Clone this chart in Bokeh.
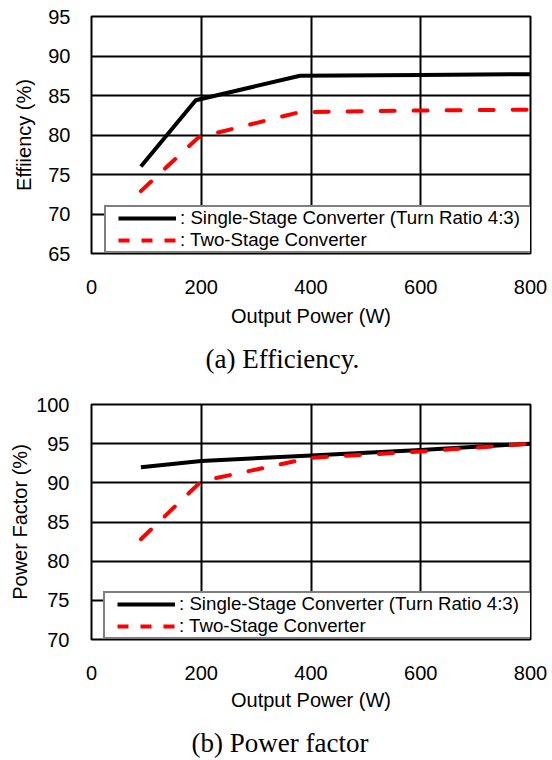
from bokeh.plotting import figure
from bokeh.models import Legend, LegendItem, FixedTicker, Range1d
from bokeh.layouts import column
from bokeh.embed import file_html
from bokeh.resources import INLINE

# ---- data ----
eff_single_x = [90, 190, 380, 600, 800]
eff_single_y = [76.0, 84.4, 87.5, 87.6, 87.7]
eff_two_x = [90, 195, 380, 600, 800]
eff_two_y = [72.9, 79.7, 82.9, 83.1, 83.2]

pf_single_x = [90, 200, 400, 600, 800]
pf_single_y = [92.0, 92.8, 93.5, 94.2, 95.0]
pf_two_x = [90, 200, 400, 600, 800]
pf_two_y = [82.8, 90.2, 93.2, 94.0, 95.0]

x_ticks = [0, 200, 400, 600, 800]
eff_ticks = [65, 70, 75, 80, 85, 90, 95]
pf_ticks = [70, 75, 80, 85, 90, 95, 100]

label_single = ": Single-Stage Converter (Turn Ratio 4:3)"
label_two = ": Two-Stage Converter"
captions = ["(a) Efficiency.", "(b) Power factor"]

SANS = "Liberation Sans"
SERIF = "Liberation Serif"


def make_fig(sx, sy, tx, ty, yticks, ylabel, height, left, right, top, bottom,
             y_std, y_lab_std, x_lab_std, leg_x, leg_w):
    p = figure(width=552, height=height, output_backend="svg", toolbar_location=None,
               x_range=Range1d(0, 800), y_range=Range1d(yticks[0], yticks[-1]),
               min_border_left=left, min_border_right=right,
               min_border_top=top, min_border_bottom=bottom)
    p.background_fill_color = "white"
    p.border_fill_color = "white"
    p.outline_line_color = "black"
    p.outline_line_width = 2

    for ax in (p.xaxis[0], p.yaxis[0]):
        ax.axis_line_color = None
        ax.major_tick_line_color = None
        ax.minor_tick_line_color = None
        ax.major_tick_in = 0
        ax.major_tick_out = 0
        ax.minor_tick_out = 0
        ax.major_label_text_font = SANS
        ax.major_label_text_font_size = "20px"
        ax.major_label_text_color = "black"
        ax.axis_label_text_font = SANS
        ax.axis_label_text_font_size = "20px"
        ax.axis_label_text_font_style = "normal"
        ax.axis_label_text_color = "black"

    p.xaxis.ticker = FixedTicker(ticks=x_ticks)
    p.yaxis.ticker = FixedTicker(ticks=yticks)
    p.xaxis.axis_label = "Output Power (W)"
    p.yaxis.axis_label = ylabel
    p.xaxis.major_label_standoff = 26
    p.xaxis.axis_label_standoff = x_lab_std
    p.yaxis.major_label_standoff = y_std
    p.yaxis.axis_label_standoff = y_lab_std

    p.xgrid.ticker = FixedTicker(ticks=x_ticks)
    p.ygrid.ticker = FixedTicker(ticks=yticks)
    for g in (p.xgrid[0], p.ygrid[0]):
        g.grid_line_color = "black"
        g.grid_line_width = 2
        g.grid_line_alpha = 1.0

    p.line(sx, sy, line_color="black", line_width=4, line_join="round")
    p.line(tx, ty, line_color="red", line_width=4, line_dash="14 19",
           line_cap="round", line_join="round")

    # legend sample renderers (hidden in the plot, used only for the key)
    ls = p.line(sx, sy, line_color="black", line_width=4,
                line_dash="58 12", line_dash_offset=58, visible=False)
    lt = p.line(tx, ty, line_color="red", line_width=4,
                line_dash="11 12", line_dash_offset=11, visible=False)

    legend = Legend(items=[LegendItem(label=label_single, renderers=[ls]),
                           LegendItem(label=label_two, renderers=[lt])],
                    location=(leg_x, 0))
    legend.click_policy = "none"
    legend.label_text_font = SANS
    legend.label_text_font_size = "18.7px"
    legend.label_text_color = "black"
    legend.label_height = 20
    legend.label_width = leg_w
    legend.glyph_height = 20
    legend.glyph_width = 70
    legend.label_standoff = 4
    legend.spacing = 0
    legend.padding = 0
    legend.margin = 0
    legend.border_line_color = "black"
    legend.border_line_width = 2
    legend.background_fill_color = "white"
    legend.background_fill_alpha = 1.0
    p.add_layout(legend, "center")
    return p


def make_caption(text, height, top, standoff, offset):
    c = figure(width=552, height=height, output_backend="svg", toolbar_location=None,
               x_axis_location=None, y_axis_location=None,
               min_border_left=0, min_border_right=0, min_border_top=top,
               min_border_bottom=0, title=text, title_location="above")
    c.outline_line_color = None
    c.background_fill_color = "white"
    c.border_fill_color = "white"
    c.xgrid.visible = False
    c.ygrid.visible = False
    c.title.align = "left"
    c.title.offset = offset
    c.title.text_font = SERIF
    c.title.text_font_size = "27px"
    c.title.text_font_style = "normal"
    c.title.text_color = "black"
    c.title.standoff = standoff
    return c


p1 = make_fig(eff_single_x, eff_single_y, eff_two_x, eff_two_y, eff_ticks,
              "Effiiency (%)", 336, 88, 20, 16, 83, 21, 10, 8, 13, 360)
c1 = make_caption(captions[0], 40, 37, 0, 114)
p2 = make_fig(pf_single_x, pf_single_y, pf_two_x, pf_two_y, pf_ticks,
              "Power Factor (%)", 338, 91, 22, 28, 75, 22, 2, 6, 12, 356)
c2 = make_caption(captions[1], 46, 43, 0, 100)

layout = column(p1, c1, p2, c2, spacing=0)
open("out.html", "w").write(file_html(layout, INLINE))
